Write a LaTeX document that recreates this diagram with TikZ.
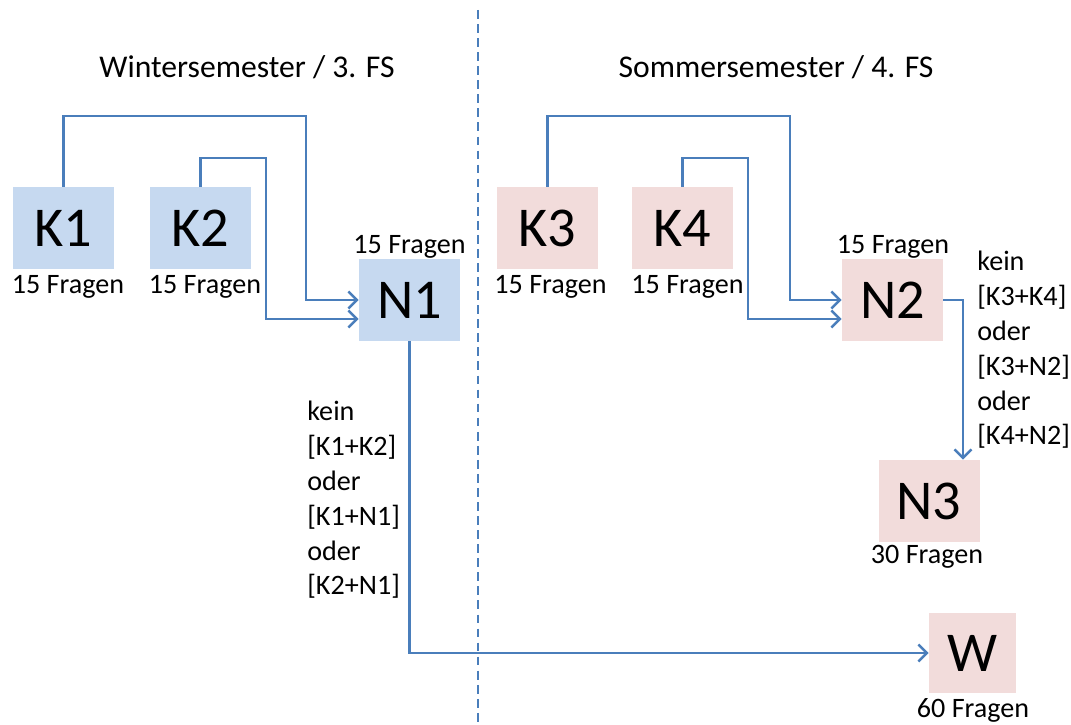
\documentclass[tikz,border=0pt]{standalone}
\usepackage{fontspec}
\setmainfont{Carlito}
\usetikzlibrary{arrows.meta}
\definecolor{boxblue}{RGB}{198,217,240}
\definecolor{boxpink}{RGB}{242,220,219}
\definecolor{linkblue}{RGB}{74,126,187}
\tikzset{
  kbox/.style={minimum width=2.02cm, minimum height=1.64cm, inner sep=0pt, font=\fontsize{32}{38}\selectfont},
  wsbox/.style={kbox, fill=boxblue},
  ssbox/.style={kbox, fill=boxpink},
  info/.style={inner sep=0pt, font=\fontsize{16}{19.8}\selectfont},
  link/.style={draw=linkblue, line width=1.4pt, -{Straight Barb[length=1.7mm,width=3.4mm]}}
}

\begin{document}
\begin{tikzpicture}
    \useasboundingbox (0,0) rectangle (21.42,-14.5);

    % Semester
    \node (t1) at (4.94,-1.34) {\fontsize{18}{22}\selectfont Wintersemester / 3. FS};
    \node (t2) at (15.52,-1.34) {\fontsize{18}{22}\selectfont Sommersemester / 4. FS};
    \draw[linkblue, line width=1.4pt, dash pattern=on 5pt off 3pt] (9.56,-0.2) -- (9.56,-14.5);

    % Klausuren
    \node[wsbox] (K1) at (1.27,-4.56) {K1};
    \node[wsbox] (K2) at (4.01,-4.56) {K2};
    \node[wsbox] (N1) at (8.19,-6.0) {N1};
    \node[ssbox] (K3) at (10.95,-4.56) {K3};
    \node[ssbox] (K4) at (13.65,-4.56) {K4};
    \node[ssbox] (N2) at (17.85,-6.0) {N2};
    \node[ssbox] (N3) at (18.58,-10.02) {N3};
    \node[ssbox, minimum width=1.74cm, minimum height=1.6cm] (W) at (19.45,-13.06) {W};

    \node[info] (fK1) at (1.36,-5.74) {15 Fragen};
    \node[info] (fK2) at (4.1,-5.74) {15 Fragen};
    \node[info] (fK3) at (11.01,-5.74) {15 Fragen};
    \node[info] (fK4) at (13.75,-5.74) {15 Fragen};
    \node[info] (fN1) at (8.19,-4.94) {15 Fragen};
    \node[info] (fN2) at (17.86,-4.94) {15 Fragen};
    \node[info] (fN3) at (18.54,-11.14) {30 Fragen};
    \node[info] (fW) at (19.46,-14.2) {60 Fragen};

    % Bedingungen
    \node[info, align=left, anchor=west] (c1) at (6.14,-10.0) {kein\\\relax[K1+K2]\\oder\\\relax[K1+N1]\\oder\\\relax[K2+N1]};
    \node[info, align=left, anchor=west] (c2) at (19.54,-7.0) {kein\\\relax[K3+K4]\\oder\\\relax[K3+N2]\\oder\\\relax[K4+N2]};

    % Verbindungen
    \coordinate (a1) at (6.12,-2.32);
    \coordinate (a2) at (5.32,-3.16);
    \coordinate (b1) at (15.8,-2.32);
    \coordinate (b2) at (14.96,-3.16);
    \draw[link] (K1.north) |- (a1) |- (N1.west);
    \draw[link] (K2.north) |- (a2) |- ([yshift=-0.38cm]N1.west);
    \draw[link] (K3.north) |- (b1) |- (N2.west);
    \draw[link] (K4.north) |- (b2) |- ([yshift=-0.38cm]N2.west);
    \draw[link] (N2.east) -| ([xshift=0.68cm]N3.north);
    \draw[link] (N1.south) |- (W.west);
\end{tikzpicture}
\end{document}
